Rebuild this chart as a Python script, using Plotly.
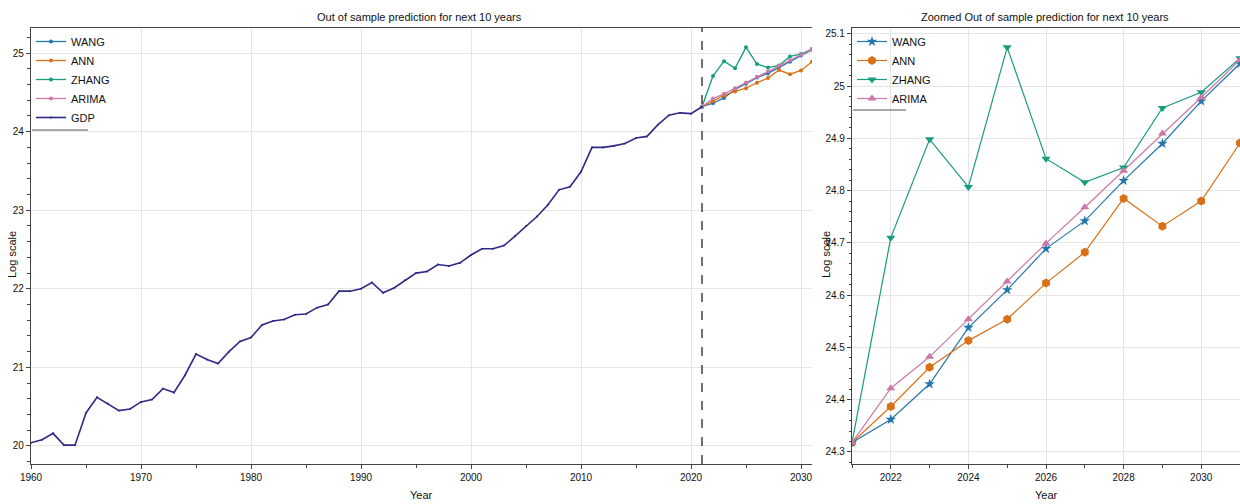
import plotly.graph_objects as go

# Historical GDP (log scale), 1960-2021
gdp_years = list(range(1960, 2022))
gdp_log = [20.04, 20.08, 20.16, 20.01, 20.01, 20.42, 20.62, 20.54, 20.45, 20.47,
           20.56, 20.59, 20.73, 20.68, 20.90, 21.17, 21.10, 21.05, 21.20, 21.33,
           21.38, 21.54, 21.59, 21.61, 21.67, 21.68, 21.76, 21.80, 21.97, 21.97,
           22.00, 22.08, 21.95, 22.01, 22.11, 22.20, 22.22, 22.31, 22.29, 22.33,
           22.43, 22.51, 22.51, 22.55, 22.67, 22.80, 22.92, 23.07, 23.26, 23.30,
           23.49, 23.80, 23.80, 23.82, 23.85, 23.92, 23.94, 24.09, 24.21, 24.24,
           24.23, 24.318]

# Out-of-sample forecasts, 2021-2031
fc_years = list(range(2021, 2032))
wang = [24.318, 24.362, 24.430, 24.538, 24.610, 24.689, 24.742, 24.819, 24.890, 24.971, 25.043]
ann = [24.318, 24.387, 24.462, 24.513, 24.554, 24.623, 24.682, 24.785, 24.732, 24.780, 24.891]
zhang = [24.318, 24.710, 24.898, 24.807, 25.074, 24.861, 24.816, 24.844, 24.958, 24.988, 25.053]
arima = [24.318, 24.422, 24.482, 24.554, 24.626, 24.699, 24.768, 24.838, 24.909, 24.978, 25.050]

series = [
    ("WANG", wang, "#2477ab", "star", 8),
    ("ANN", ann, "#d87016", "hexagon", 9),
    ("ZHANG", zhang, "#179c7d", "triangle-down", 8),
    ("ARIMA", arima, "#cc79a7", "triangle-up", 8),
]
gdp_color = "#2e2a86"

FONT = "Liberation Sans Narrow, Liberation Sans, Arial, sans-serif"
W, H = 1240, 504


def px_x(p):
    return p / W


def px_y(p):
    return (H - p) / H


fig = go.Figure()

# Left panel: full history plus forecasts
for name, vals, color, sym, _ in series:
    fig.add_trace(go.Scatter(
        x=fc_years, y=vals, name=name, mode="lines+markers",
        line=dict(color=color, width=1.3),
        marker=dict(color=color, size=4, symbol="circle"),
        xaxis="x", yaxis="y", legend="legend"))
fig.add_trace(go.Scatter(
    x=gdp_years, y=gdp_log, name="GDP", mode="lines+markers",
    line=dict(color=gdp_color, width=1.6),
    marker=dict(color=gdp_color, size=2),
    xaxis="x", yaxis="y", legend="legend"))

# Right panel: forecasts only
for name, vals, color, sym, size in series:
    fig.add_trace(go.Scatter(
        x=fc_years, y=vals, name=name, mode="lines+markers",
        line=dict(color=color, width=1.2),
        marker=dict(color=color, size=size, symbol=sym),
        xaxis="x2", yaxis="y2", legend="legend2"))

ydom = [px_y(464), px_y(28)]
tickfont = dict(family=FONT, size=10, color="#111")


def axis(**kw):
    base = dict(
        showline=True, linecolor="#444", linewidth=1.2,
        ticks="outside", ticklen=4, tickcolor="#444",
        showgrid=True, gridcolor="#e6e6e6", gridwidth=1, zeroline=False,
        tickfont=tickfont, automargin=False,
    )
    base.update(kw)
    return base


fig.update_layout(
    width=W, height=H,
    margin=dict(l=0, r=0, t=0, b=0, autoexpand=False),
    paper_bgcolor="white", plot_bgcolor="white",
    font=dict(family=FONT, size=10, color="#111"),
    xaxis=axis(domain=[px_x(31), px_x(812)], range=[1960, 2031], anchor="y",
               tick0=1960, dtick=10, mirror=True,
               minor=dict(dtick=5, ticklen=3, tickcolor="#444", showgrid=False)),
    yaxis=axis(domain=ydom, range=[19.77, 25.32], anchor="x",
               tick0=20, dtick=1,
               minor=dict(dtick=0.2, ticklen=3, tickcolor="#444", showgrid=False)),
    xaxis2=axis(domain=[px_x(852), 1.0], range=[2021, 2031], anchor="y2",
                tick0=2022, dtick=2, mirror=True,
                minor=dict(dtick=1, ticklen=3, tickcolor="#444", showgrid=False)),
    yaxis2=axis(domain=ydom, range=[24.277, 25.111], anchor="x2",
                tick0=24.3, dtick=0.1,
                minor=dict(dtick=0.02, ticklen=2, tickcolor="#444", showgrid=False)),
    legend=dict(x=px_x(31), y=px_y(27), xanchor="left", yanchor="top",
                bgcolor="rgba(0,0,0,0)", font=dict(family=FONT, size=11),
                itemwidth=30, tracegroupgap=0),
    legend2=dict(x=px_x(852), y=px_y(27), xanchor="left", yanchor="top",
                 bgcolor="rgba(0,0,0,0)", font=dict(family=FONT, size=11),
                 itemwidth=30, tracegroupgap=0),
    showlegend=True,
)

# Forecast start marker
fig.add_shape(type="line", xref="x", yref="y domain", x0=2021, x1=2021, y0=0, y1=1,
              line=dict(color="#111", width=1.2, dash="dash"))
# Legend frame bottom edges
fig.add_shape(type="line", xref="paper", yref="paper", x0=px_x(32), x1=px_x(88),
              y0=px_y(130), y1=px_y(130), line=dict(color="#555", width=1.2))
fig.add_shape(type="line", xref="paper", yref="paper", x0=px_x(853), x1=px_x(906),
              y0=px_y(110), y1=px_y(110), line=dict(color="#555", width=1.2))

# Titles and axis labels
ann_font = dict(family=FONT, size=11, color="#111")


def label(text, x, y, angle=0):
    fig.add_annotation(text=text, x=px_x(x), y=px_y(y), xref="paper", yref="paper",
                       xanchor="center", yanchor="middle", showarrow=False,
                       textangle=angle, font=ann_font)


label("Out of sample prediction for next 10 years", 420, 17)
label("Zoomed Out of sample prediction for next 10 years", 1045, 17)
label("Year", 421, 495)
label("Year", 1046, 495)
label("Log scale", 12, 255, -90)
label("Log scale", 826, 255, -90)

fig.write_html("out.html")
